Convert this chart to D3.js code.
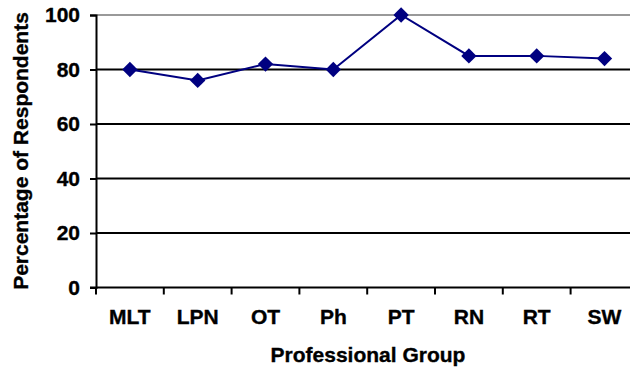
<!DOCTYPE html>
<html>
<head>
<meta charset="utf-8">
<script src="https://cdn.jsdelivr.net/npm/d3@7"></script>
<style>
  html, body { margin: 0; padding: 0; background: #fff; }
  svg { display: block; }
  text { font-family: "Liberation Sans", Arial, sans-serif; font-weight: bold; fill: #000; stroke: #000; stroke-width: 0.35px; }
</style>
</head>
<body>
<svg id="chart" width="630" height="369"></svg>
<script>
// Share of respondents by professional group
const categories = ["MLT", "LPN", "OT", "Ph", "PT", "RN", "RT", "SW"];
const percentages = [80, 76, 82, 80, 100, 85, 85, 84];
const yTicks = [0, 20, 40, 60, 80, 100];

const svg = d3.select("#chart");
const plotLeft = 96, plotTop = 15, plotBottom = 287.5;
const bandWidth = 67.8;
const plotRight = plotLeft + bandWidth * categories.length;
const fontSize = "21px";

const x = d3.scaleBand().domain(categories).range([plotLeft, plotRight]).paddingInner(0).paddingOuter(0);
const y = d3.scaleLinear().domain([0, 100]).range([plotBottom, plotTop]);

// horizontal gridlines (top one drawn in grey)
svg.append("g").selectAll("line")
  .data(yTicks.filter(d => d > 0))
  .join("line")
  .attr("x1", plotLeft).attr("x2", plotRight)
  .attr("y1", d => y(d)).attr("y2", d => y(d))
  .attr("stroke", d => d === 100 ? "#999" : "#000")
  .attr("stroke-width", 2);

// y axis
const yAxis = svg.append("g")
  .attr("transform", `translate(${plotLeft},0)`)
  .call(d3.axisLeft(y).tickValues(yTicks).tickSize(6).tickPadding(10));
yAxis.select(".domain").attr("stroke", "#000").attr("stroke-width", 2);
yAxis.selectAll(".tick line").attr("stroke", "#000").attr("stroke-width", 2);
yAxis.selectAll(".tick text")
  .style("font-size", fontSize).style("font-weight", "bold")
  .attr("font-family", null).attr("fill", "#000");

// x axis with ticks between categories
const xAxis = svg.append("g")
  .attr("transform", `translate(0,${plotBottom})`)
  .call(d3.axisBottom(x).tickSize(0).tickPadding(22));
xAxis.select(".domain").remove();
xAxis.append("line")
  .attr("x1", plotLeft - 6).attr("x2", plotRight)
  .attr("stroke", "#000").attr("stroke-width", 2);
xAxis.selectAll(".boundary")
  .data(d3.range(categories.length + 1))
  .join("line")
  .attr("class", "boundary")
  .attr("x1", i => plotLeft + i * x.bandwidth())
  .attr("x2", i => plotLeft + i * x.bandwidth())
  .attr("y1", 0).attr("y2", 7)
  .attr("stroke", "#000").attr("stroke-width", 2);
xAxis.selectAll(".tick text")
  .style("font-size", fontSize).style("font-weight", "bold")
  .attr("font-family", null).attr("fill", "#000")
  .attr("dy", "0.71em");

// series line
const cx = d => x(d) + x.bandwidth() / 2;
svg.append("path")
  .datum(categories.map((c, i) => [cx(c), y(percentages[i])]))
  .attr("fill", "none")
  .attr("stroke", "#000080")
  .attr("stroke-width", 2)
  .attr("d", d3.line());

// diamond markers
svg.append("g").selectAll("path")
  .data(categories)
  .join("path")
  .attr("transform", (c, i) => `translate(${cx(c)},${y(percentages[i])})`)
  .attr("d", d3.symbol(d3.symbolDiamond2, 150))
  .attr("fill", "#000080");

// axis titles
svg.append("text")
  .attr("x", 368)
  .attr("y", 362)
  .attr("text-anchor", "middle")
  .style("font-size", fontSize)
  .text("Professional Group");

svg.append("text")
  .attr("transform", "translate(28,151) rotate(-90)")
  .attr("text-anchor", "middle")
  .style("font-size", fontSize)
  .text("Percentage of Respondents");
</script>
</body>
</html>
